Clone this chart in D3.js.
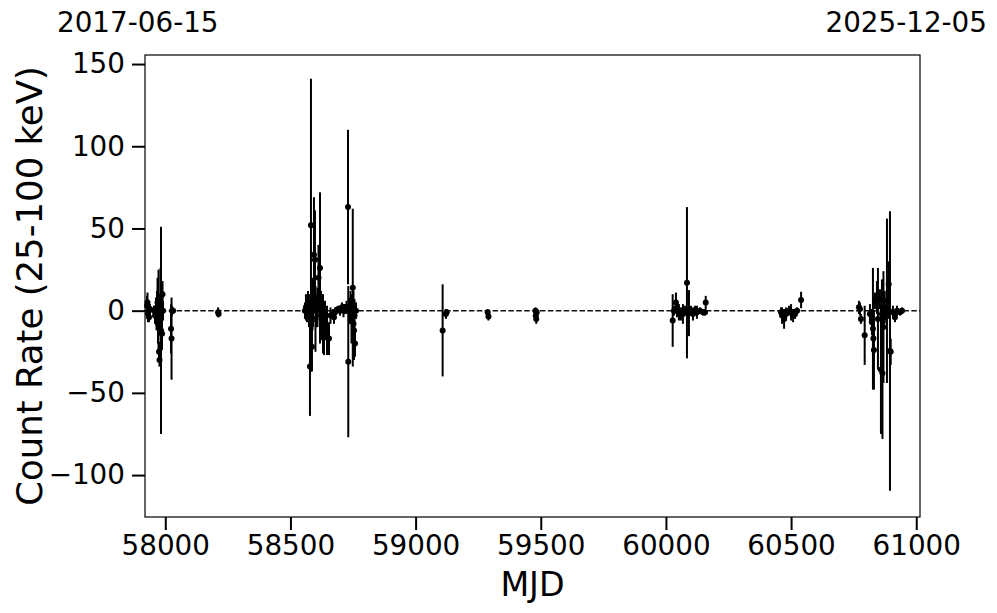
<!DOCTYPE html>
<html>
<head>
<meta charset="utf-8">
<script src="https://cdn.jsdelivr.net/npm/d3@7"></script>
<style>
  body { margin: 0; background: #fff; }
  text { font-family: "DejaVu Sans", sans-serif; fill: #000; }
</style>
</head>
<body>
<svg id="chart" width="997" height="613"></svg>
<script>
// observation epochs (MJD), count rates and 1-sigma errors
const mjd = [
  57927, 57929, 57931, 57933, 57935, 57939, 57955, 57959, 57963, 57965,
  57967, 57969, 57971, 57973, 57975, 57977, 57979, 57981, 57983, 57985,
  57987, 57989, 57991, 58023, 58025, 58027, 58031, 58211, 58213,
  58558, 58562, 58566, 58570, 58574, 58578, 58582, 58586, 58588, 58590,
  58594, 58598, 58600, 58604, 58608, 58612, 58618, 58622, 58626, 58630,
  58634, 58638, 58646, 58654, 58660, 58670, 58674, 58678, 58684, 58690,
  58698, 58706, 58712, 58718, 58724, 58730, 58731, 58736, 58740, 58744,
  58749, 58752, 58754, 58756, 58758, 58762,
  59108, 59121, 59124, 59288, 59291, 59479, 59480, 59482, 59484,
  60027, 60032, 60040, 60044, 60052, 60060, 60068, 60076, 60084, 60088,
  60092, 60100, 60108, 60116, 60124, 60136, 60148, 60156, 60159,
  60460, 60464, 60472, 60480, 60492, 60500, 60508, 60516, 60524, 60540,
  60771, 60775, 60779, 60794, 60815, 60823, 60827, 60829, 60831, 60835,
  60843, 60847, 60855, 60859, 60863, 60865, 60869, 60874, 60879, 60883,
  60890, 60891, 60895, 60898, 60907, 60915, 60923, 60935, 60943
];
const rate = [
  3, 5, -2, 0, -4, 1, 0, -3, 0, -4,
  2, 5, -8, 0, -25, -30, -5, 8, -12, 0,
  -14, 10, 0, -11, -17, 0, 0, -1, -2,
  0, 2, -1, 4, 0, -34, 52, -22, 0, 5,
  34, 31, -5, 0, 2, 20, 26, -3, 0, -8,
  -12, -6, -12, -17, -3, -2, -4, -1, 0, 1,
  0, 2, 0, 1, 2, 63, -31, 0, 2, -5,
  14, -8, -12, -3, -20, 0,
  -12, -2, -1, -1, -3.5, 0, -3, -5, -1,
  -6, 0, 5, 0, -1, -2, -2, 0, 17, -1,
  -1.5, 0, -2, 0, -1, 0, -1, -1, 5,
  -1, -3, -5, -2, 0, -1, -3, -2, 0, 6.5,
  2, 1, -5, -15, -2, -7, -11, -17, -24, 6,
  8, -5, 7, -36, -2, -38, -10, 2, -2, 6,
  16, 0, -24.5, -25, -1, -4, 0, -1, 0
];
const err = [
  6, 6, 5, 4, 3, 3, 3, 5, 8, 8,
  10, 15, 12, 25, 6, 4, 10, 18, 63, 12,
  10, 8, 6, 15, 25, 3, 2, 3, 2,
  5, 8, 6, 8, 10, 30, 89, 15, 12, 15,
  35, 30, 20, 10, 12, 20, 46, 15, 10, 18,
  15, 12, 15, 10, 5, 3, 4, 3, 2, 2,
  3, 3, 4, 3, 4, 47, 46, 8, 10, 15,
  48, 20, 18, 10, 8, 5,
  28, 3, 2, 2, 2.5, 2, 3, 3, 2,
  16, 3, 6, 4, 5, 4, 6, 3, 46, 3,
  14, 3, 4, 3, 4, 2, 2, 2, 4,
  3, 5, 6, 4, 3, 5, 4, 3, 2, 5,
  4, 4, 3, 18, 6, 8, 37, 10, 24, 5,
  10, 31, 6, 39, 21, 40, 34, 10, 4, 50,
  14, 5, 85, 8, 4, 3, 3, 2, 2
];

const xTicks = [58000, 58500, 59000, 59500, 60000, 60500, 61000];
const yTicks = [-100, -50, 0, 50, 100, 150];
const startDate = "2017-06-15";
const endDate = "2025-12-05";

const points = mjd.map((m, i) => ({ mjd: m, rate: rate[i], err: err[i] }));

const svg = d3.select("#chart");
const margin = { top: 55, right: 77, bottom: 96, left: 145 };
const width = 997 - margin.left - margin.right;
const height = 613 - margin.top - margin.bottom;

const chart = svg.append("g").attr("transform", `translate(${margin.left},${margin.top})`);

const x = d3.scaleLinear().domain([57919, 61015]).range([0, width]);
const y = d3.scaleLinear().domain([-125.5, 155.5]).range([height, 0]);

// axes
const xAxis = chart.append("g")
  .attr("transform", `translate(0,${height})`)
  .call(d3.axisBottom(x).tickValues(xTicks).tickFormat(d3.format("d")).tickSize(13).tickPadding(5).tickSizeOuter(0));
const yAxis = chart.append("g")
  .call(d3.axisLeft(y).tickValues(yTicks).tickSize(13).tickPadding(7).tickSizeOuter(0));

[xAxis, yAxis].forEach(a => {
  a.select(".domain").remove();
  a.selectAll(".tick line").attr("stroke", "#000").attr("stroke-width", 2);
  a.selectAll(".tick text").attr("font-size", "27.8px").attr("font-family", "DejaVu Sans");
});

// zero line
chart.append("line")
  .attr("x1", 0).attr("x2", width)
  .attr("y1", y(0)).attr("y2", y(0))
  .attr("stroke", "#111")
  .attr("stroke-width", 1.5)
  .attr("stroke-dasharray", "5.5,2.4");

// error bars
chart.append("g").selectAll("line")
  .data(points)
  .join("line")
  .attr("x1", d => x(d.mjd)).attr("x2", d => x(d.mjd))
  .attr("y1", d => y(d.rate + d.err)).attr("y2", d => y(d.rate - d.err))
  .attr("stroke", "#000")
  .attr("stroke-width", 2);

// markers
chart.append("g").selectAll("circle")
  .data(points)
  .join("circle")
  .attr("cx", d => x(d.mjd))
  .attr("cy", d => y(d.rate))
  .attr("r", 3)
  .attr("fill", "#000");

// frame
chart.append("rect")
  .attr("width", width).attr("height", height)
  .attr("fill", "none")
  .attr("stroke", "#000")
  .attr("stroke-width", 1.2);

// labels
svg.append("text")
  .attr("x", margin.left + width / 2)
  .attr("y", 596)
  .attr("text-anchor", "middle")
  .attr("font-size", "33.3px")
  .text("MJD");

svg.append("text")
  .attr("transform", `translate(42,${margin.top + height / 2}) rotate(-90)`)
  .attr("text-anchor", "middle")
  .attr("font-size", "35.5px")
  .text("Count Rate (25-100 keV)");

svg.append("text")
  .attr("x", 57).attr("y", 32)
  .attr("font-size", "27.8px")
  .text(startDate);

svg.append("text")
  .attr("x", 987).attr("y", 32)
  .attr("text-anchor", "end")
  .attr("font-size", "27.8px")
  .text(endDate);
</script>
</body>
</html>
